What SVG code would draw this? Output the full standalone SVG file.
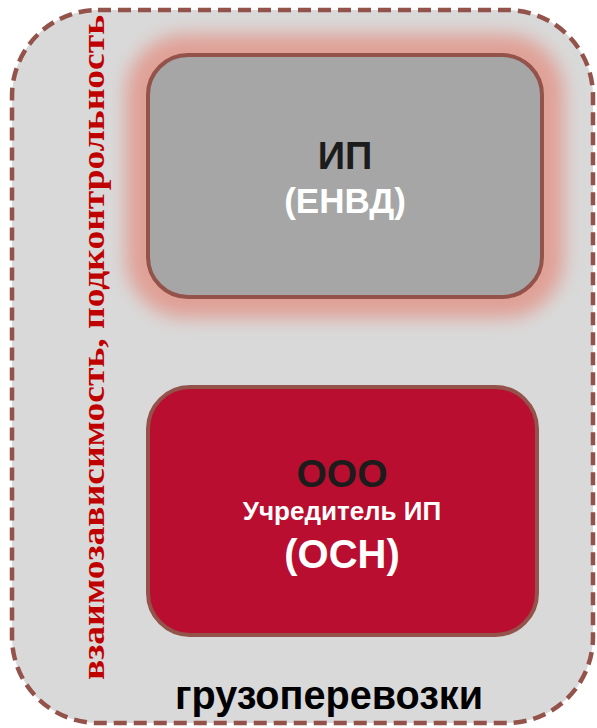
<svg xmlns="http://www.w3.org/2000/svg" width="597" height="728" viewBox="0 0 597 728">
  <defs>
    <filter id="glow" x="-20%" y="-20%" width="140%" height="140%">
      <feGaussianBlur stdDeviation="9"/>
    </filter>
  </defs>
  <style>
    .frame { fill: #d9d9d9; stroke: #93524a; stroke-width: 4.5; stroke-dasharray: 13 7; }
    .box { stroke: #93524a; stroke-width: 4; }
    .sans { font-family: "Liberation Sans", Arial, sans-serif; font-weight: bold; text-anchor: middle; }
    .dark { fill: #1c1c1c; }
    .white { fill: #ffffff; }
    .vert { font-family: "Liberation Serif", "Times New Roman", serif; font-weight: bold; fill: #c00000; }
  </style>
  <rect width="597" height="728" fill="#ffffff"/>
  <g id="frame">
    <rect class="frame" x="12" y="10" width="581" height="713" rx="86" ry="86"/>
    <text class="vert" transform="translate(104,680) rotate(-90)" x="0" y="0" font-size="31" textLength="665" lengthAdjust="spacingAndGlyphs">взаимозависимость, подконтрольность</text>
    <text class="sans" x="329" y="709" font-size="40" fill="#000000" textLength="308" lengthAdjust="spacingAndGlyphs">грузоперевозки</text>
  </g>
  <g id="node-ip">
    <rect x="126" y="34" width="438" height="284" rx="60" fill="#e0a096" filter="url(#glow)"/>
    <rect class="box" x="148" y="55" width="394" height="242" rx="40" fill="#a6a6a6"/>
    <text class="sans dark" x="345" y="169" font-size="38">ИП</text>
    <text class="sans white" x="345" y="213" font-size="35">(ЕНВД)</text>
  </g>
  <g id="node-ooo">
    <rect class="box" x="148" y="387" width="389" height="248" rx="42" fill="#b90e2f"/>
    <text class="sans dark" x="342" y="487" font-size="39">ООО</text>
    <text class="sans white" x="342" y="520" font-size="26">Учредитель ИП</text>
    <text class="sans white" x="342" y="568" font-size="40">(ОСН)</text>
  </g>
  <g id="connectors"/>
</svg>
